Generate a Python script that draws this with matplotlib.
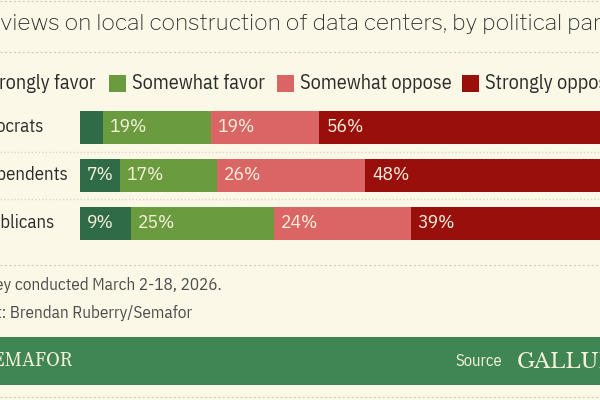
import matplotlib
matplotlib.use("Agg")
import matplotlib.pyplot as plt
from matplotlib.lines import Line2D
from matplotlib.patches import Rectangle

# data
parties = ["Democrats", "Independents", "Republicans"]
responses = ["Strongly favor", "Somewhat favor", "Somewhat oppose", "Strongly oppose"]
strongly_favor = [4, 7, 9]
somewhat_favor = [19, 17, 25]
somewhat_oppose = [19, 26, 24]
strongly_oppose = [56, 48, 39]

title = "Americans\u2019 views on local construction of data centers, by political party"
note = "Survey conducted March 2-18, 2026."
credit = "Chart: Brendan Ruberry/Semafor"

colors = ["#2f6b47", "#6b9b3f", "#d96565", "#990f0b"]
BG = "#fbf8e7"
FOOTER = "#3f8653"
INK = "#2b2b2b"
CREAM = "#f7f1dc"
SANS = ["IBM Plex Sans Condensed", "DejaVu Sans"]
TITLE_FONT = ["Libre Franklin", "DejaVu Sans"]
SERIF = ["Source Serif 4", "DejaVu Serif"]
LOGO = ["Libre Baskerville", "DejaVu Serif"]

W, H = 600, 400
fig = plt.figure(figsize=(6, 4), dpi=100, facecolor=BG)
renderer = fig.canvas.get_renderer()


def fx(px):
    return px / W


def fy(py):
    return 1 - py / H


def width_px(s, **kw):
    t = fig.text(0, 0, s, **kw)
    w = t.get_window_extent(renderer).width
    t.remove()
    return w


def hline(y, color="#d2ccb8", ls=(0, (2, 2)), lw=0.8):
    fig.add_artist(Line2D([0, 1], [fy(y), fy(y)], color=color, lw=lw,
                          ls=ls, transform=fig.transFigure))


# dashed rules
hline(1)
hline(52)
hline(265)
hline(397)

# title (left part runs off the frame)
tkw = dict(fontsize=16.35, family=TITLE_FONT, color=INK)
tx = 0 - width_px("Americans\u2019 ", **tkw)
fig.text(fx(tx), fy(30), title, va="baseline", ha="left", **tkw)

# legend
lkw = dict(fontsize=14.5, family=SANS, color=INK)
sq_x = [109 - 14 - width_px(responses[0], **lkw) - 23, 109, 277, 462]
for x, lab, c in zip(sq_x, responses, colors):
    fig.add_artist(Rectangle((fx(x), fy(92)), 17 / W, 17 / H,
                             transform=fig.transFigure, color=c, lw=0))
    fig.text(fx(x + 23), fy(83.5), lab, va="center", ha="left", **lkw)

# bars: 0..100 maps onto x pixels 80..650
ax = fig.add_axes([fx(80), fy(247.5), 570 / W, 144 / H])
ax.set_xlim(0, 100)
ax.set_ylim(len(parties) - 0.5, -0.5)
ax.axis("off")

series = [strongly_favor, somewhat_favor, somewhat_oppose, strongly_oppose]
left = [0] * len(parties)
for vals, c in zip(series, colors):
    ax.barh(range(len(parties)), vals, left=left, height=33 / 48,
            color=c, lw=0)
    for i, (l, v) in enumerate(zip(left, vals)):
        if v >= 5:
            ax.annotate(f"{v}%", (l, i), xytext=(5, 0),
                        textcoords="offset points", va="center", ha="left",
                        fontsize=14, family=SANS, color=CREAM,
                        annotation_clip=False)
    left = [l + v for l, v in zip(left, vals)]

# party labels share a left margin, cropped by the frame
pkw = dict(fontsize=13.5, family=SANS, color=INK)
px0 = 68 - width_px("Independents", **pkw)
for i, p in enumerate(parties):
    fig.text(fx(px0), fy(127.5 + 48 * i), p, va="center", ha="left", **pkw)

# dotted separators between bars
hline(152, color="#ddd6c0", ls=(0, (1, 1.5)), lw=1.0)
hline(199, color="#ddd6c0", ls=(0, (1, 1.5)), lw=1.0)

# notes
nkw = dict(fontsize=12.3, family=SANS, color="#4d4d4d")
nx = 222 - width_px(note, **nkw)
fig.text(fx(nx), fy(285), note, va="center", ha="left", **nkw)
fig.text(fx(nx), fy(313), credit, va="center", ha="left", **nkw)

# footer band
fig.add_artist(Rectangle((0, fy(385)), 1, 48 / H, transform=fig.transFigure,
                         color=FOOTER, lw=0))
fig.text(fx(73), fy(361), "SEMAFOR", ha="right", va="center", fontsize=14,
         family=SERIF, weight="heavy", color=CREAM)
fig.text(fx(455), fy(361), "Source", ha="left", va="center", fontsize=12,
         family=SANS, color=CREAM)
fig.text(fx(517), fy(362), "GALLUP", ha="left", va="center", fontsize=15,
         family=LOGO, color=CREAM)

fig.savefig("out.png", dpi=100, facecolor=BG)
